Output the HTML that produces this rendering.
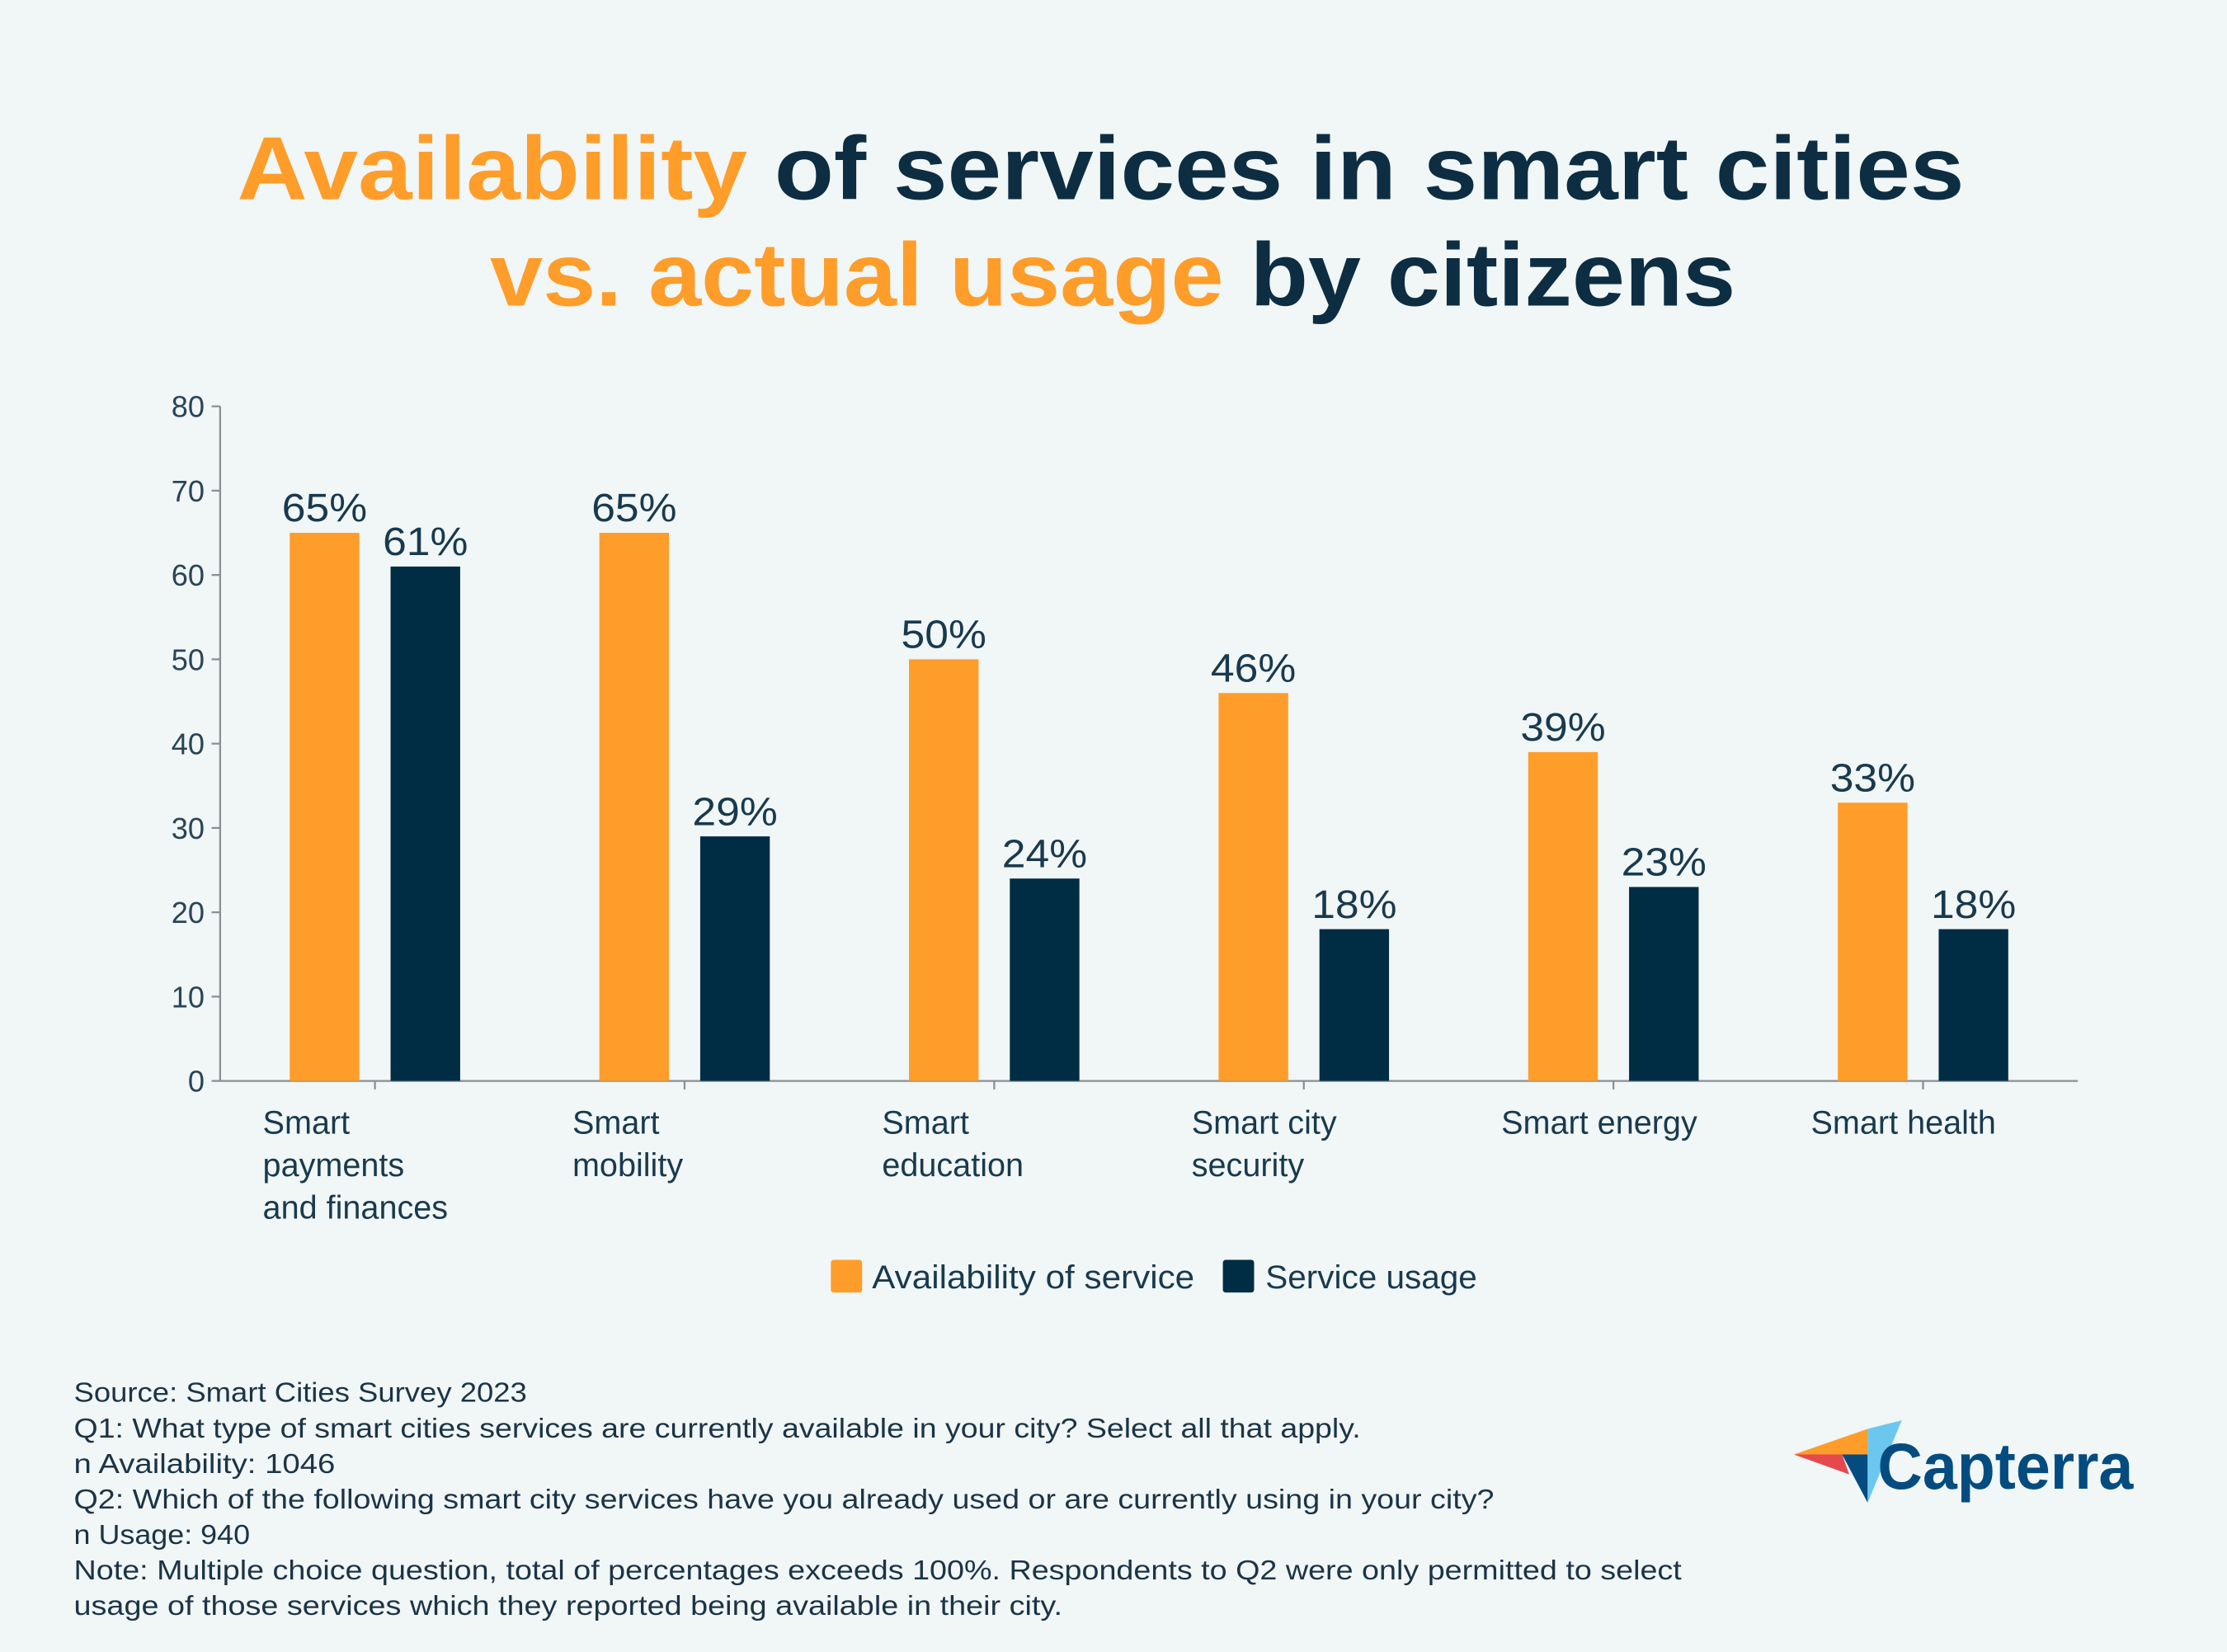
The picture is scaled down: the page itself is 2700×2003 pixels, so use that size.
<!DOCTYPE html>
<html><head><meta charset="utf-8"><style>
html,body{margin:0;padding:0;background:#f1f6f6;}
svg{display:block;font-family:"Liberation Sans",sans-serif;}
</style></head><body>
<svg width="2700" height="2003" viewBox="0 0 1568 1163" xmlns="http://www.w3.org/2000/svg">
<rect x="0" y="0" width="1568" height="1163" fill="#f1f6f6"/>
<text x="167" y="140" font-size="63" font-weight="bold" textLength="1216" lengthAdjust="spacingAndGlyphs"><tspan fill="#ff9d2a">Availability</tspan><tspan fill="#0d2d42"> of services in smart cities</tspan></text>
<text x="345" y="215" font-size="63" font-weight="bold" textLength="877" lengthAdjust="spacingAndGlyphs"><tspan fill="#ff9d2a">vs. actual usage</tspan><tspan fill="#0d2d42"> by citizens</tspan></text>
<g id="plot"></g>
<g>
<rect x="585" y="887" width="22" height="23" rx="2" fill="#ff9d2a"/>
<text x="614" y="907" font-size="23" fill="#183a4e" textLength="227" lengthAdjust="spacingAndGlyphs">Availability of service</text>
<rect x="861" y="887" width="22" height="23" rx="2" fill="#012d44"/>
<text x="891" y="907" font-size="23" fill="#183a4e" textLength="149" lengthAdjust="spacingAndGlyphs">Service usage</text>
</g>
<g font-size="19.5" fill="#1b3446">
<text x="52" y="987" textLength="319" lengthAdjust="spacingAndGlyphs">Source: Smart Cities Survey 2023</text>
<text x="52" y="1012" textLength="906" lengthAdjust="spacingAndGlyphs">Q1: What type of smart cities services are currently available in your city? Select all that apply.</text>
<text x="52" y="1037" textLength="184" lengthAdjust="spacingAndGlyphs">n Availability: 1046</text>
<text x="52" y="1062" textLength="1000" lengthAdjust="spacingAndGlyphs">Q2: Which of the following smart city services have you already used or are currently using in your city?</text>
<text x="52" y="1087" textLength="124" lengthAdjust="spacingAndGlyphs">n Usage: 940</text>
<text x="52" y="1112" textLength="1132" lengthAdjust="spacingAndGlyphs">Note: Multiple choice question, total of percentages exceeds 100%. Respondents to Q2 were only permitted to select</text>
<text x="52" y="1137" textLength="696" lengthAdjust="spacingAndGlyphs">usage of those services which they reported being available in their city.</text>
</g>
<g>
<polygon points="1263,1024 1315,1006 1315,1024" fill="#ff9d2a"/>
<polygon points="1263,1024 1297,1024 1302,1038" fill="#e5484d"/>
<polygon points="1297,1024 1315,1024 1315,1058" fill="#044c80"/>
<polygon points="1315,1006 1315,1058 1339,1000" fill="#6cc7ee"/>
<text x="1322" y="1048" font-size="46" font-weight="bold" fill="#044c80" textLength="180" lengthAdjust="spacingAndGlyphs">Capterra</text>
</g>
</svg>
<script>
const categories = [["Smart","payments","and finances"],["Smart","mobility"],["Smart","education"],["Smart city","security"],["Smart energy"],["Smart health"]];
const availability = [65, 65, 50, 46, 39, 33];
const usage = [61, 29, 24, 18, 23, 18];
const yTicks = [0, 10, 20, 30, 40, 50, 60, 70, 80];

const NS = "http://www.w3.org/2000/svg";
const g = document.getElementById("plot");
const X0 = 155, X1 = 1463, Y0 = 761, Y80 = 286;
const yScale = v => Y0 - (v / 80) * (Y0 - Y80);
const groupW = (X1 - X0) / categories.length;
const xCenter = i => X0 + groupW * (i + 0.5);
function mk(tag, attrs, text) {
  const e = document.createElementNS(NS, tag);
  for (const k in attrs) e.setAttribute(k, attrs[k]);
  if (text !== undefined) e.textContent = text;
  g.appendChild(e);
  return e;
}
let e;
e = mk("line", {x1: X0, y1: Y80, x2: X0, y2: Y0, stroke: "#8a8f94", "stroke-width": 1.3});


e = mk("line", {x1: X0, y1: Y0, x2: X1, y2: Y0, stroke: "#8a8f94", "stroke-width": 1.3});


yTicks.forEach(t => {
  const y = yScale(t);
  e = mk("line", {x1: X0 - 6, y1: y, x2: X0, y2: y, stroke: "#8a8f94", "stroke-width": 1.3});
  
  
  e = mk("text", {x: X0 - 11, y: y + 7.5, "font-size": 21, fill: "#2a4457", "text-anchor": "end"}, String(t));
  
  
});
categories.forEach((lines, i) => {
  const c = xCenter(i);
  e = mk("line", {x1: c, y1: Y0, x2: c, y2: Y0 + 6, stroke: "#8a8f94", "stroke-width": 1.3});
  
  
  const bars = [[availability[i], c - 60, "#ff9d2a", "bar-availability"], [usage[i], c + 11, "#012d44", "bar-usage"]];
  bars.forEach(([v, x, col, name]) => {
    e = mk("rect", {x: x, y: yScale(v), width: 49, height: Y0 - yScale(v), fill: col});
    
    
    e = mk("text", {x: x + 24.5, y: yScale(v) - 8, "font-size": 28, fill: "#183a4e", "text-anchor": "middle", textLength: 60, lengthAdjust: "spacingAndGlyphs"}, v + "%");
    
    
  });
  lines.forEach((ln, j) => {
    e = mk("text", {x: c - 79, y: 798 + j * 30, "font-size": 23, fill: "#183a4e"}, ln);
    
    
  });
});
</script>
</body></html>
